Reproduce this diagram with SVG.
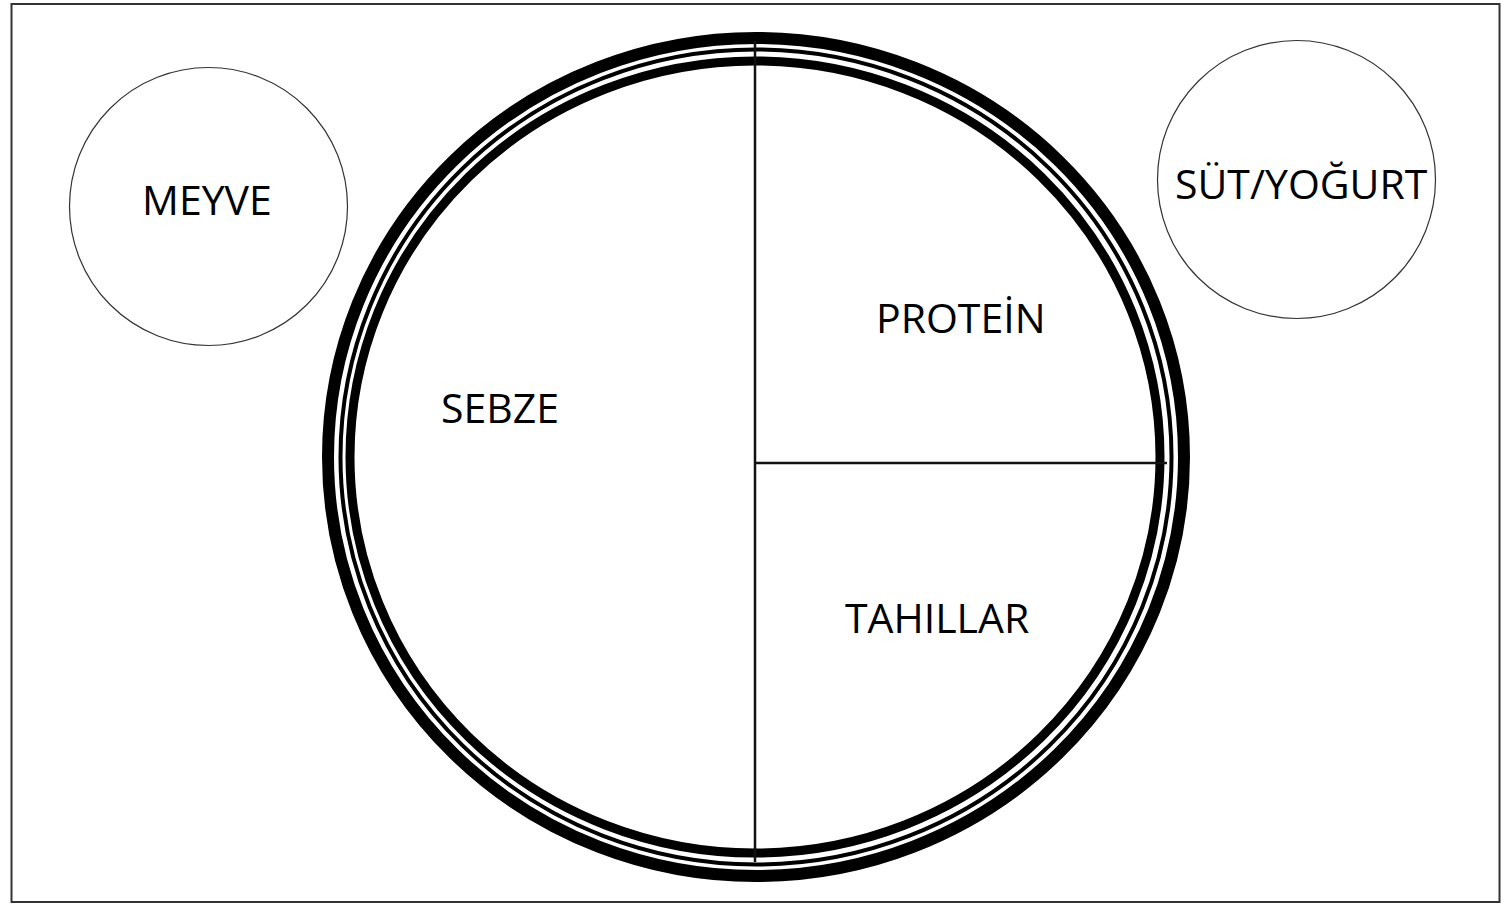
<svg xmlns="http://www.w3.org/2000/svg" width="1501" height="904" viewBox="0 0 1501 904">
<style>
.lbl{font-family:"Open Sans","Liberation Sans",sans-serif;font-size:41px;fill:#000}
.side{fill:#fff;stroke:#333;stroke-width:1.2}
.div{stroke:#111;stroke-width:2.5;fill:none}
</style>
<rect x="0" y="0" width="1501" height="904" fill="#fff"/>
<rect x="11.5" y="4" width="1488" height="898" fill="#fff" stroke="#333" stroke-width="2"/>
<g id="plate">
<ellipse cx="756" cy="457" rx="428" ry="419" fill="#fff" stroke="#000" stroke-width="12"/>
<ellipse cx="756" cy="457" rx="415.5" ry="407.5" fill="none" stroke="#000" stroke-width="4"/>
<ellipse cx="755" cy="457" rx="405" ry="396" fill="#fff" stroke="#000" stroke-width="9"/>
</g>
<g id="connectors">
<line class="div" x1="755" y1="41" x2="755" y2="862"/>
<line class="div" x1="755" y1="463" x2="1167" y2="463"/>
</g>
<g id="meyve">
<circle class="side" cx="208.5" cy="206.5" r="139"/>
<text class="lbl" x="142" y="215">MEYVE</text>
</g>
<g id="sut">
<circle class="side" cx="1296.5" cy="179.5" r="139"/>
<text class="lbl" x="1175" y="199">SÜT/YOĞURT</text>
</g>
<g id="sebze"><text class="lbl" x="441" y="423">SEBZE</text></g>
<g id="protein"><text class="lbl" x="876" y="333">PROTEİN</text></g>
<g id="tahillar"><text class="lbl" x="845" y="633">TAHILLAR</text></g>
</svg>
